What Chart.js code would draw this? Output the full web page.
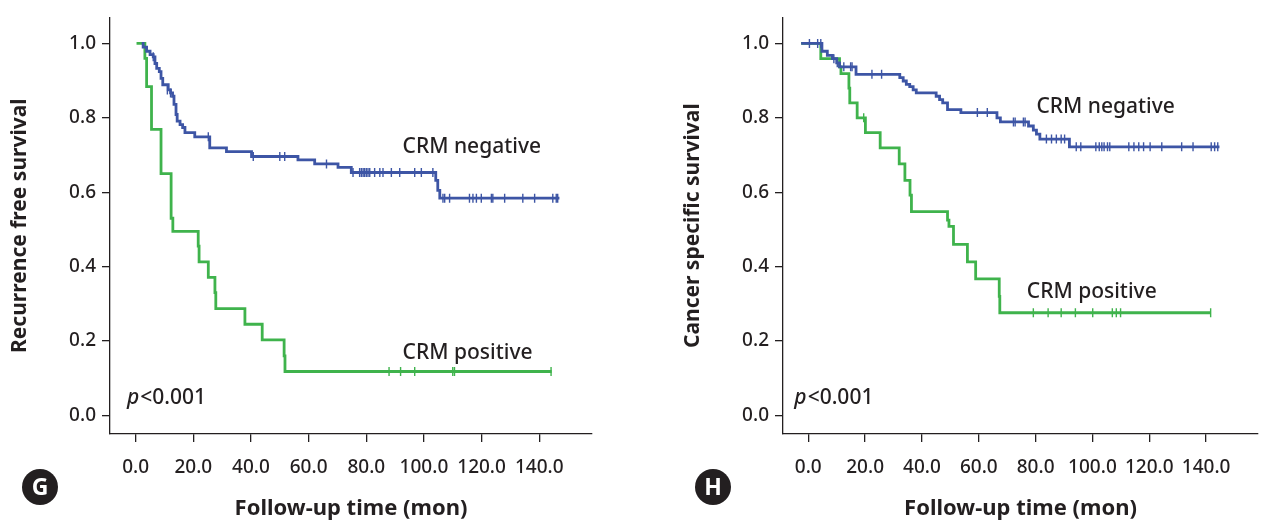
<!DOCTYPE html>
<html>
<head>
<meta charset="utf-8">
<script src="https://cdn.jsdelivr.net/npm/chart.js@4.4.1/dist/chart.umd.min.js"></script>
<style>
  html, body { margin: 0; padding: 0; background: #fff; }
  #wrap { position: relative; width: 1264px; height: 524px; overflow: hidden; }
  .panel { position: absolute; top: 0; width: 632px; height: 524px; }
</style>
</head>
<body>
<div id="wrap">
  <div class="panel" style="left:0"><canvas id="chartG" width="632" height="524"></canvas></div>
  <div class="panel" style="left:632px"><canvas id="chartH" width="632" height="524"></canvas></div>
</div>
<script>
// ---- axis ticks ----
const xTickValues = [0, 20, 40, 60, 80, 100, 120, 140];
const xTickLabels = ['0.0', '20.0', '40.0', '60.0', '80.0', '100.0', '120.0', '140.0'];
const yTickValues = [0, 0.2, 0.4, 0.6, 0.8, 1.0];
const yTickLabels = ['0.0', '0.2', '0.4', '0.6', '0.8', '1.0'];

// ---- G: recurrence free survival, CRM negative (step points: time, survival) ----
const rfsNegTime = [2.1, 2.6, 3.8, 5.0, 6.1, 6.7, 7.3, 8.2, 8.8, 9.4, 11.3, 12.1, 12.8, 13.3, 14.0, 14.4, 15.4, 16.3, 17.1, 20.5, 25.7, 31.5, 40.2, 56.3, 62.1, 70.2, 74.8, 104.1, 104.8, 105.5, 147.0];
const rfsNegSurv = [1.0, 0.990, 0.979, 0.970, 0.964, 0.946, 0.933, 0.924, 0.906, 0.889, 0.875, 0.867, 0.858, 0.836, 0.809, 0.791, 0.782, 0.774, 0.760, 0.749, 0.719, 0.709, 0.696, 0.687, 0.676, 0.667, 0.653, 0.632, 0.605, 0.584, 0.584];
const rfsNegCensorTime = [6.1, 11.0, 12.1, 25.2, 40.8, 50.0, 51.7, 66.2,
  75.4, 77.7, 78.3, 78.9, 79.4, 80.0, 80.6, 81.2, 82.9, 84.7, 85.8, 88.7, 91.6, 96.8, 99.1, 103.1,
  106.6, 107.2, 108.9, 115.8, 117.0, 118.2, 119.9, 123.4, 123.9, 128.0, 134.3, 138.4, 144.7, 145.9, 146.4];
const rfsNegCensorSurv = [0.964, 0.875, 0.867, 0.749, 0.696, 0.696, 0.696, 0.676,
  0.653, 0.653, 0.653, 0.653, 0.653, 0.653, 0.653, 0.653, 0.653, 0.653, 0.653, 0.653, 0.653, 0.653, 0.653, 0.653,
  0.584, 0.584, 0.584, 0.584, 0.584, 0.584, 0.584, 0.584, 0.584, 0.584, 0.584, 0.584, 0.584, 0.584, 0.584];

// ---- G: CRM positive ----
const rfsPosTime = [0.3, 3.2, 3.8, 5.5, 8.8, 12.3, 12.9, 21.7, 22.0, 25.2, 27.5, 27.8, 37.9, 43.9, 51.5, 51.8, 144.3];
const rfsPosSurv = [1.0, 0.960, 0.884, 0.769, 0.650, 0.530, 0.495, 0.455, 0.413, 0.371, 0.330, 0.287, 0.245, 0.203, 0.160, 0.118, 0.118];
const rfsPosCensorTime = [87.9, 91.9, 96.8, 110.0, 110.6, 144.1];
const rfsPosCensorSurv = [0.118, 0.118, 0.118, 0.118, 0.118, 0.118];

// ---- H: cancer specific survival, CRM negative ----
const cssNegTime = [-2.5, 4.8, 6.7, 8.5, 10.0, 11.0, 16.8, 32.2, 33.4, 34.5, 35.7, 36.9, 38.0, 45.0, 46.2, 47.3, 49.0, 53.7, 66.4, 67.6, 77.5, 79.2, 80.3, 81.5, 91.9, 144.7];
const cssNegSurv = [1.0, 0.979, 0.968, 0.959, 0.948, 0.937, 0.917, 0.908, 0.899, 0.890, 0.884, 0.875, 0.867, 0.858, 0.849, 0.840, 0.822, 0.814, 0.800, 0.789, 0.778, 0.767, 0.756, 0.743, 0.722, 0.722];
const cssNegCensorTime = [0.4, 3.3, 4.4, 9.0, 10.2, 12.5, 14.9, 15.4, 22.4, 25.8, 59.5, 63.0, 72.2, 72.8, 75.7, 76.3,
  83.8, 85.6, 87.3, 89.0, 90.2,
  94.3, 95.9, 101.2, 102.4, 103.3, 104.1, 105.3, 106.1, 112.8, 114.6, 116.3, 118.0, 120.3, 124.4, 131.4, 135.4, 141.8, 143.0, 144.1];
const cssNegCensorSurv = [1.0, 1.0, 1.0, 0.959, 0.948, 0.937, 0.937, 0.937, 0.917, 0.917, 0.814, 0.814, 0.789, 0.789, 0.789, 0.789,
  0.743, 0.743, 0.743, 0.743, 0.743,
  0.722, 0.722, 0.722, 0.722, 0.722, 0.722, 0.722, 0.722, 0.722, 0.722, 0.722, 0.722, 0.722, 0.722, 0.722, 0.722, 0.722, 0.722, 0.722];

// ---- H: CRM positive ----
const cssPosTime = [-2.5, 4.4, 11.0, 11.5, 14.3, 14.6, 17.2, 20.1, 25.3, 32.0, 34.0, 35.8, 36.3, 49.0, 49.5, 51.1, 56.0, 58.9, 67.2, 67.4, 141.6];
const cssPosSurv = [1.0, 0.959, 0.937, 0.919, 0.880, 0.840, 0.800, 0.760, 0.719, 0.676, 0.632, 0.592, 0.548, 0.525, 0.508, 0.460, 0.413, 0.367, 0.320, 0.276, 0.276];
const cssPosCensorTime = [19.5, 79.2, 84.4, 89.0, 94.0, 100.1, 107.0, 108.4, 109.9, 141.6];
const cssPosCensorSurv = [0.800, 0.276, 0.276, 0.276, 0.276, 0.276, 0.276, 0.276, 0.276, 0.276];

const BLUE = '#3d55a5';
const GREEN = '#3fb34c';
const INK = '#231f20';
const FONT = "'Noto Sans', 'Open Sans', sans-serif";
const X_MIN = -8.9, X_MAX = 158.3;

function toPoints(times, surv) {
  return times.map((t, i) => ({ x: t, y: surv[i] }));
}

// draws the in-plot captions and the panel letter badge
const panelTextPlugin = {
  id: 'panelText',
  afterDatasetsDraw(chart, args, opts) {
    const ctx = chart.ctx;
    const xs = chart.scales.x, ys = chart.scales.y;
    ctx.save();
    ctx.fillStyle = INK;
    ctx.textBaseline = 'middle';
    ctx.textAlign = 'left';
    (opts.labels || []).forEach(l => {
      let x = xs.getPixelForValue(l.t);
      const y = ys.getPixelForValue(l.v);
      if (l.italic) {
        ctx.font = 'italic 500 21px ' + FONT;
        ctx.fillText(l.italic, x, y);
        x += ctx.measureText(l.italic).width + 1;
      }
      ctx.font = '500 21px ' + FONT;
      ctx.fillText(l.text, x, y);
    });
    if (opts.badge) {
      const b = opts.badge;
      ctx.beginPath();
      ctx.arc(b.x, b.y, 18, 0, Math.PI * 2);
      ctx.fillStyle = INK;
      ctx.fill();
      ctx.fillStyle = '#fff';
      ctx.textAlign = 'center';
      ctx.font = 'bold 23px ' + FONT;
      ctx.fillText(b.letter, b.x, b.y + 1);
    }
    ctx.restore();
  }
};

function curve(times, surv, color) {
  return {
    data: toPoints(times, surv),
    borderColor: color,
    borderWidth: 2.8,
    stepped: 'before',
    pointRadius: 0,
    fill: false
  };
}

function censor(times, surv, color) {
  return {
    data: toPoints(times, surv),
    showLine: false,
    borderColor: color,
    backgroundColor: color,
    pointStyle: 'line',
    rotation: 90,
    pointRadius: 4.5,
    pointBorderWidth: 1.4
  };
}

function makePanel(id, cfg) {
  const tickFont = { family: FONT, size: 19, weight: '500' };
  return new Chart(document.getElementById(id), {
    type: 'line',
    data: { datasets: cfg.datasets },
    options: {
      responsive: false,
      animation: false,
      layout: { padding: { left: cfg.padLeft, right: cfg.padRight, top: 12, bottom: 0 } },
      plugins: {
        legend: { display: false },
        tooltip: { enabled: false },
        panelText: { labels: cfg.labels, badge: cfg.badge }
      },
      scales: {
        x: {
          type: 'linear',
          min: X_MIN,
          max: X_MAX,
          afterBuildTicks: s => { s.ticks = xTickValues.map(v => ({ value: v })); },
          afterFit: s => { s.height = 90; },
          ticks: {
            callback: (v, i) => xTickLabels[i],
            font: tickFont, color: INK, padding: 14, maxRotation: 0, autoSkip: false
          },
          grid: { drawOnChartArea: false, drawTicks: true, tickLength: 8, color: INK, lineWidth: 1.3 },
          border: { display: true, color: INK, width: 1.3 },
          title: { display: true, text: 'Follow-up time (mon)', font: { family: FONT, size: 22, weight: 'bold' }, color: INK, padding: { top: 0, bottom: 2 } }
        },
        y: {
          type: 'linear',
          min: -0.05,
          max: 1.07,
          afterBuildTicks: s => { s.ticks = yTickValues.map(v => ({ value: v })); },
          afterFit: s => { s.width = cfg.axisLeft - cfg.padLeft; },
          ticks: {
            callback: (v, i) => yTickLabels[i],
            font: tickFont, color: INK, padding: 6, autoSkip: false
          },
          grid: { drawOnChartArea: false, drawTicks: true, tickLength: 8, color: INK, lineWidth: 1.3 },
          border: { display: true, color: INK, width: 1.3 },
          title: { display: true, text: cfg.yTitle, font: { family: FONT, size: 21, weight: 'bold' }, color: INK, padding: { top: 3, bottom: 0 } }
        }
      }
    },
    plugins: [panelTextPlugin]
  });
}

makePanel('chartG', {
  padLeft: 4, padRight: 40, axisLeft: 110,
  yTitle: 'Recurrence free survival',
  datasets: [
    curve(rfsNegTime, rfsNegSurv, BLUE),
    censor(rfsNegCensorTime, rfsNegCensorSurv, BLUE),
    curve(rfsPosTime, rfsPosSurv, GREEN),
    censor(rfsPosCensorTime, rfsPosCensorSurv, GREEN)
  ],
  labels: [
    { text: 'CRM negative', t: 92.6, v: 0.721 },
    { text: 'CRM positive', t: 92.6, v: 0.167 },
    { italic: 'p', text: '<0.001', t: -3.0, v: 0.048 }
  ],
  badge: { letter: 'G', x: 40, y: 487 }
});

makePanel('chartH', {
  padLeft: 45, padRight: 0, axisLeft: 151,
  yTitle: 'Cancer specific survival',
  datasets: [
    curve(cssNegTime, cssNegSurv, BLUE),
    censor(cssNegCensorTime, cssNegCensorSurv, BLUE),
    curve(cssPosTime, cssPosSurv, GREEN),
    censor(cssPosCensorTime, cssPosCensorSurv, GREEN)
  ],
  labels: [
    { text: 'CRM negative', t: 80.3, v: 0.828 },
    { text: 'CRM positive', t: 76.9, v: 0.332 },
    { italic: 'p', text: '<0.001', t: -4.9, v: 0.048 }
  ],
  badge: { letter: 'H', x: 81, y: 487 }
});
</script>
</body>
</html>
